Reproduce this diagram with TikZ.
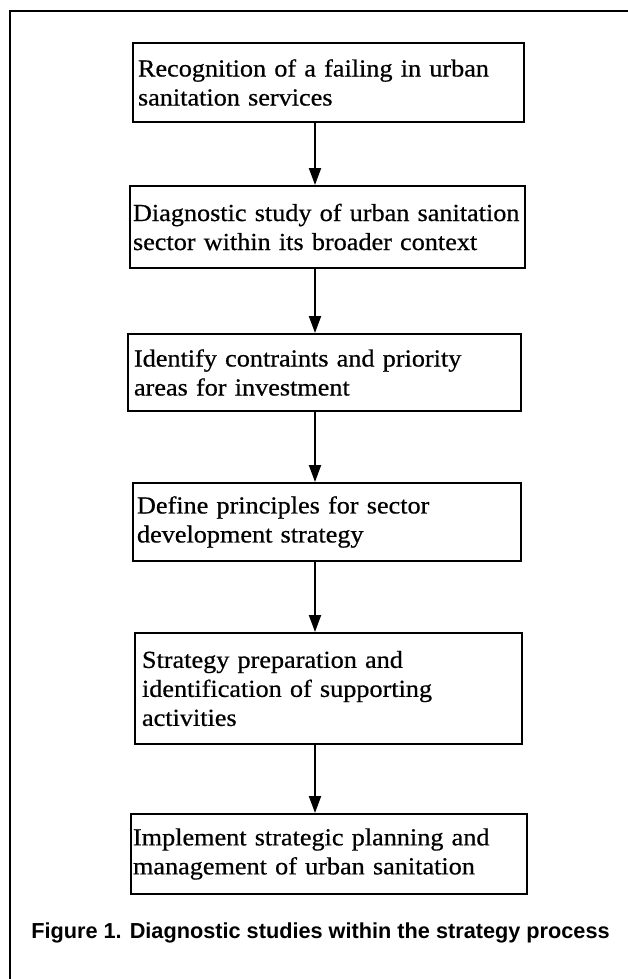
\documentclass[tikz,border=0pt]{standalone}
\usepackage{fontspec}
\setmainfont{Liberation Serif}
\newfontfamily\stagefont[FakeStretch=1.07,FakeBold=0.6]{Liberation Serif}
\newfontfamily\capfont{Liberation Sans}
\usetikzlibrary{arrows.meta}

\begin{document}
\begin{tikzpicture}[x=1pt,y=-1pt,
    stage/.style={draw,line width=2pt,anchor=north west,align=left,
        inner xsep=4pt,inner ysep=2pt,font={\stagefont\fontsize{24.5}{29}\selectfont}},
    flow/.style={-{Triangle[length=17pt,width=12pt]},line width=2pt}]
    \useasboundingbox (0,0) rectangle (628,979);

    % Frame
    \draw[line width=2.2pt] (628,11) -- (10,11) -- (10,979);

    % Stages
    \node[stage,inner xsep=5pt,text width=381pt,minimum height=79pt] (rec) at (132,42)
        {Recognition of a failing in urban\\sanitation services};
    \node[stage,inner xsep=3pt,text width=389pt,minimum height=82pt] (diag) at (129,185)
        {Diagnostic study of urban sanitation\\sector within its broader context};
    \node[stage,inner xsep=6pt,text width=381pt,minimum height=77pt] (ident) at (127,333)
        {Identify contraints and priority\\areas for investment};
    \node[stage,text width=380pt,minimum height=78pt] (princ) at (132,482)
        {Define principles for sector\\development strategy};
    \node[stage,inner xsep=7pt,text width=373pt,minimum height=111pt] (prep) at (134,632)
        {Strategy preparation and\\identification of supporting\\activities};
    \node[stage,inner xsep=2pt,text width=392pt,minimum height=80pt] (impl) at (130,813)
        {Implement strategic planning and\\management of urban sanitation};

    % Arrows
    \coordinate (spine) at (315,0);
    \draw[flow] (rec.south -| spine) -- (diag.north -| spine);
    \draw[flow] (diag.south -| spine) -- (ident.north -| spine);
    \draw[flow] (ident.south -| spine) -- (princ.north -| spine);
    \draw[flow] (princ.south -| spine) -- (prep.north -| spine);
    \draw[flow] (prep.south -| spine) -- (impl.north -| spine);

    % Caption
    \node[anchor=base,inner sep=0pt,font={\capfont\bfseries\fontsize{21.7}{24}\selectfont}] (caption) at (320.5,938)
        {Figure 1. Diagnostic studies within the strategy process};
\end{tikzpicture}
\end{document}
